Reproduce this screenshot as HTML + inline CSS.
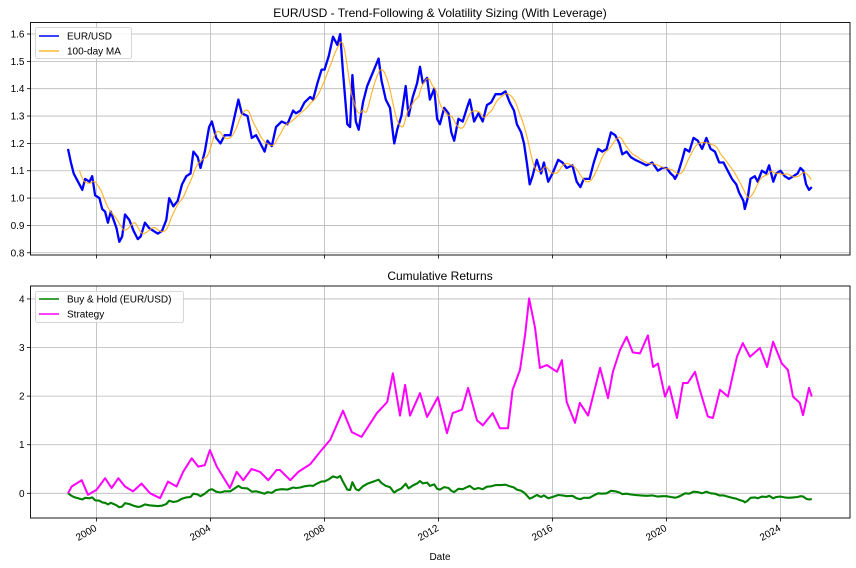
<!DOCTYPE html>
<html><head><meta charset="utf-8">
<style>
html,body{margin:0;padding:0;background:#fff;}
body{position:relative;width:856px;height:568px;}
svg{display:block;font-family:"Liberation Sans","DejaVu Sans",sans-serif;}
</style></head>
<body>
<svg id="chart" width="856" height="568" viewBox="0 0 856 568">
<rect x="0" y="0" width="856" height="568" fill="#fff"/>
<g id="topPanel"></g>
<g id="botPanel"></g>
</svg>
<script>
// ---- price data (EUR/USD) ----
var priceYears=[1999.0,1999.1,1999.2,1999.35,1999.5,1999.6,1999.75,1999.85,1999.95,2000.1,2000.2,2000.3,2000.4,2000.5,2000.6,2000.7,2000.8,2000.9,2001.0,2001.15,2001.3,2001.45,2001.55,2001.7,2001.85,2002.0,2002.15,2002.3,2002.45,2002.55,2002.7,2002.85,2003.0,2003.15,2003.3,2003.4,2003.55,2003.65,2003.8,2003.95,2004.05,2004.2,2004.35,2004.5,2004.7,2004.85,2004.98,2005.1,2005.3,2005.45,2005.6,2005.75,2005.9,2006.0,2006.15,2006.3,2006.5,2006.7,2006.9,2007.0,2007.15,2007.3,2007.5,2007.6,2007.75,2007.9,2008.0,2008.15,2008.3,2008.45,2008.55,2008.65,2008.8,2008.9,2008.98,2009.1,2009.2,2009.35,2009.5,2009.7,2009.9,2010.0,2010.15,2010.3,2010.42,2010.45,2010.55,2010.7,2010.85,2010.95,2011.1,2011.25,2011.35,2011.45,2011.6,2011.7,2011.85,2011.95,2012.05,2012.2,2012.35,2012.45,2012.55,2012.7,2012.85,2013.0,2013.1,2013.25,2013.4,2013.55,2013.7,2013.85,2014.0,2014.2,2014.35,2014.5,2014.65,2014.75,2014.9,2015.0,2015.1,2015.2,2015.3,2015.45,2015.6,2015.7,2015.85,2016.0,2016.2,2016.35,2016.5,2016.7,2016.85,2016.98,2017.1,2017.3,2017.45,2017.6,2017.75,2017.9,2018.05,2018.2,2018.35,2018.45,2018.6,2018.75,2018.9,2019.1,2019.3,2019.5,2019.7,2019.85,2020.0,2020.15,2020.25,2020.3,2020.4,2020.55,2020.65,2020.8,2020.95,2021.1,2021.25,2021.4,2021.55,2021.7,2021.85,2022.0,2022.15,2022.3,2022.45,2022.55,2022.7,2022.75,2022.85,2022.95,2023.1,2023.2,2023.35,2023.5,2023.6,2023.75,2023.85,2024.0,2024.15,2024.3,2024.45,2024.6,2024.7,2024.8,2024.9,2025.0,2025.1];
var priceVals=[1.18,1.13,1.09,1.06,1.03,1.07,1.06,1.08,1.01,1.00,0.96,0.95,0.91,0.95,0.92,0.89,0.84,0.86,0.94,0.92,0.88,0.85,0.86,0.91,0.89,0.88,0.87,0.88,0.92,1.00,0.97,0.99,1.05,1.08,1.09,1.17,1.15,1.11,1.17,1.26,1.28,1.22,1.20,1.23,1.23,1.30,1.36,1.31,1.30,1.22,1.23,1.20,1.17,1.21,1.19,1.26,1.28,1.27,1.32,1.31,1.32,1.35,1.37,1.36,1.42,1.47,1.47,1.52,1.59,1.56,1.60,1.46,1.27,1.26,1.45,1.28,1.25,1.35,1.41,1.46,1.51,1.43,1.36,1.33,1.22,1.20,1.25,1.30,1.41,1.30,1.37,1.42,1.48,1.42,1.44,1.36,1.40,1.29,1.27,1.33,1.31,1.24,1.21,1.29,1.28,1.33,1.36,1.28,1.31,1.28,1.34,1.35,1.38,1.38,1.39,1.35,1.32,1.27,1.24,1.20,1.13,1.05,1.08,1.14,1.09,1.13,1.06,1.09,1.14,1.13,1.11,1.12,1.06,1.04,1.07,1.07,1.13,1.18,1.17,1.18,1.24,1.23,1.20,1.16,1.17,1.15,1.14,1.13,1.12,1.13,1.10,1.11,1.11,1.09,1.08,1.07,1.09,1.14,1.18,1.17,1.22,1.21,1.18,1.22,1.18,1.17,1.13,1.13,1.10,1.07,1.05,1.02,0.99,0.96,1.00,1.07,1.08,1.06,1.10,1.09,1.12,1.06,1.09,1.10,1.08,1.07,1.08,1.09,1.11,1.10,1.05,1.03,1.04];
// ---- strategy cumulative returns ----
var stratYears=[1999.0,1999.13,1999.48,1999.7,2000.0,2000.3,2000.53,2000.77,2001.0,2001.28,2001.58,2001.88,2002.23,2002.51,2002.81,2003.04,2003.34,2003.57,2003.8,2003.98,2004.22,2004.68,2004.92,2005.15,2005.44,2005.74,2006.03,2006.32,2006.44,2006.8,2007.08,2007.5,2007.84,2008.2,2008.65,2008.96,2009.3,2009.84,2010.2,2010.4,2010.65,2010.83,2011.0,2011.35,2011.6,2011.98,2012.3,2012.5,2012.82,2013.04,2013.35,2013.56,2013.9,2014.15,2014.44,2014.6,2014.86,2015.04,2015.18,2015.39,2015.56,2015.8,2016.16,2016.33,2016.5,2016.79,2016.96,2017.25,2017.67,2017.95,2018.12,2018.37,2018.6,2018.82,2019.07,2019.35,2019.53,2019.7,2019.95,2020.1,2020.37,2020.58,2020.75,2021.0,2021.17,2021.45,2021.63,2021.88,2022.16,2022.47,2022.68,2022.93,2023.28,2023.53,2023.74,2024.05,2024.26,2024.44,2024.68,2024.79,2025.0,2025.1];
var stratVals=[0,0.14,0.27,-0.03,0.07,0.31,0.11,0.31,0.14,0.04,0.2,0.0,-0.1,0.24,0.14,0.44,0.72,0.55,0.58,0.89,0.55,0.11,0.44,0.27,0.5,0.44,0.27,0.48,0.48,0.27,0.44,0.6,0.85,1.1,1.7,1.26,1.16,1.65,1.88,2.47,1.6,2.23,1.6,2.06,1.57,1.98,1.24,1.65,1.72,2.17,1.5,1.4,1.65,1.34,1.34,2.13,2.54,3.26,4.01,3.4,2.58,2.64,2.5,2.74,1.88,1.45,1.86,1.6,2.58,1.96,2.5,2.95,3.22,2.9,2.88,3.25,2.6,2.67,1.99,2.2,1.55,2.27,2.27,2.5,2.13,1.58,1.55,2.13,1.99,2.81,3.09,2.81,2.99,2.6,3.12,2.67,2.54,1.99,1.86,1.61,2.17,1.99];
var xTickYears=[2000,2004,2008,2012,2016,2020,2024];
var topTicks=[0.8,0.9,1.0,1.1,1.2,1.3,1.4,1.5,1.6];
var botTicks=[0,1,2,3,4];

var NS="http://www.w3.org/2000/svg";
var L=30.5,R=850;
var X0=1997.684,X1=2026.44;
function xs(y){return L+(y-X0)/(X1-X0)*(R-L);}
var TT=22.5,TB=255,T0=0.7918,T1=1.6421;
function yt(v){return TB-(v-T0)/(T1-T0)*(TB-TT);}
var BT=286,BB=518,B0=-0.508,B1=4.266;
function yb(v){return BB-(v-B0)/(B1-B0)*(BB-BT);}
function mk(tag,attrs,parent){var e=document.createElementNS(NS,tag);for(var k in attrs)e.setAttribute(k,attrs[k]);parent.appendChild(e);return e;}
function interp(t){if(t<=priceYears[0])return priceVals[0];for(var i=1;i<priceYears.length;i++){if(t<=priceYears[i]){var a=priceYears[i-1],b=priceYears[i];return priceVals[i-1]+(priceVals[i]-priceVals[i-1])*(t-a)/(b-a);}}return priceVals[priceVals.length-1];}

var gTop=document.getElementById('topPanel'),gBot=document.getElementById('botPanel');

function frame(g,Tp,Bt,ticks,yf,fmt,namePrefix,showLabels){
  xTickYears.forEach(function(yr){
    var l=mk('line',{x1:xs(yr),x2:xs(yr),y1:Tp,y2:Bt,stroke:'#b8b8b8','stroke-width':0.8},g);
    
    
    var t=mk('line',{x1:xs(yr),x2:xs(yr),y1:Bt,y2:Bt+3.5,stroke:'#000','stroke-width':0.8},g);
    
    
    if(showLabels){
      var ax=xs(yr)+1,ay=Bt+12;
      var tx=mk('text',{x:ax,y:ay,'font-size':10,'text-anchor':'end',transform:'rotate(-30 '+ax+' '+ay+')',fill:'#000'},g);
      tx.textContent=yr;
      
      
    }
  });
  ticks.forEach(function(v){
    var y=yf(v);
    var l=mk('line',{x1:L,x2:R,y1:y,y2:y,stroke:'#b8b8b8','stroke-width':0.8},g);
    
    
    var t=mk('line',{x1:L-3.5,x2:L,y1:y,y2:y,stroke:'#000','stroke-width':0.8},g);
    
    
    var tx=mk('text',{x:L-6,y:y+3.5,'font-size':10,'text-anchor':'end',fill:'#000'},g);
    tx.textContent=fmt(v);
    
    
  });
}
function poly(g,xsArr,ysArr,color,w,name){
  var pts=xsArr.map(function(x,i){return x.toFixed(1)+','+ysArr[i].toFixed(1);}).join(' ');
  var p=mk('polyline',{points:pts,fill:'none',stroke:color,'stroke-width':w,'stroke-linejoin':'round'},g);
  
  
  return p;
}
function border(g,Tp,Bt,name){
  var r=mk('rect',{x:L,y:Tp,width:R-L,height:Bt-Tp,fill:'none',stroke:'#000','stroke-width':0.9},g);
  
  
}

frame(gTop,TT,TB,topTicks,yt,function(v){return v.toFixed(1);},'price',false);
poly(gTop,priceYears.map(xs),priceVals.map(yt),'#0000ff',2.3,'eurusd-line');
var maY=[],maV=[];
for(var t=priceYears[0]+0.4;t<=priceYears[priceYears.length-1]+1e-9;t+=0.04){
  var s=0,n=0;for(var u=t-0.4;u<=t+1e-9;u+=0.02){s+=interp(u);n++;}
  maY.push(t);maV.push(s/n);
}
poly(gTop,maY.map(xs),maV.map(yt),'#ffa500',1.2,'moving-average-line').setAttribute('stroke-opacity','0.8');
border(gTop,TT,TB,'price-axes-frame');

frame(gBot,BT,BB,botTicks,yb,function(v){return String(v);},'returns',true);
var base=priceVals[0];
poly(gBot,priceYears.map(xs),priceVals.map(function(v){return yb(v/base-1);}),'#008000',2.1,'buy-hold-line');
poly(gBot,stratYears.map(xs),stratVals.map(yb),'#ff00ff',2.0,'strategy-line');
border(gBot,BT,BB,'returns-axes-frame');
</script>
<svg width="856" height="568" viewBox="0 0 856 568" style="position:absolute;left:0;top:0;font-family:'Liberation Sans','DejaVu Sans',sans-serif">
<text x="440" y="17" font-size="12" text-anchor="middle">EUR/USD - Trend-Following &amp; Volatility Sizing (With Leverage)</text>
<text x="440" y="280" font-size="12" text-anchor="middle">Cumulative Returns</text>
<text x="440" y="560" font-size="10" text-anchor="middle">Date</text>
<g>
<rect x="35.5" y="27.5" width="96" height="31" rx="2" fill="#fff" fill-opacity="0.8" stroke="#ccc" stroke-width="0.8"/>
<line x1="39" x2="59" y1="36" y2="36" stroke="#0000ff" stroke-width="1.5"/>
<text x="67" y="39.5" font-size="10">EUR/USD</text>
<line x1="39" x2="59" y1="51" y2="51" stroke="#ffa500" stroke-opacity="0.8" stroke-width="1.5"/>
<text x="67" y="54.5" font-size="10">100-day MA</text>
</g>
<g>
<rect x="35.5" y="291.5" width="148" height="31" rx="2" fill="#fff" fill-opacity="0.8" stroke="#ccc" stroke-width="0.8"/>
<line x1="39" x2="59" y1="299" y2="299" stroke="#008000" stroke-width="1.5"/>
<text x="67" y="302.5" font-size="10">Buy &amp; Hold (EUR/USD)</text>
<line x1="39" x2="59" y1="314" y2="314" stroke="#ff00ff" stroke-width="1.5"/>
<text x="67" y="317.5" font-size="10">Strategy</text>
</g>
</svg>
</body></html>
